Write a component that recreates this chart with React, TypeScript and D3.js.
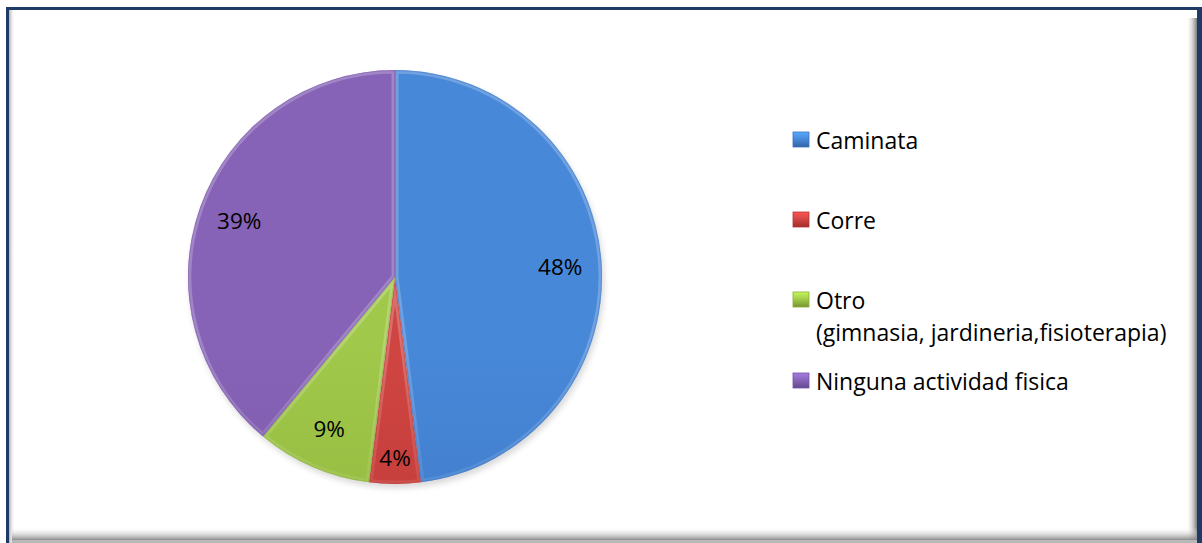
import React from "react";
import * as d3 from "d3";

const categories = ["Caminata", "Corre", "Otro", "Ninguna actividad fisica"];
const legendLabels = [
  ["Caminata"],
  ["Corre"],
  ["Otro", "(gimnasia, jardineria,fisioterapia)"],
  ["Ninguna actividad fisica"],
];
const values = [48, 4, 9, 39];
const colorsTop = ["#4888d8", "#cf4542", "#a0c84a", "#8663b6"];
const colorsBottom = ["#3a72c0", "#b73532", "#89ad35", "#7553a3"];

const W = 1202;
const H = 543;
const cx = 395;
const cy = 277;
const R = 207;
const legendX = 793;
const legendY = [140, 220, 300, 381];
const lineH = 32;
const font = "'Open Sans', Lato, sans-serif";

export default function App() {
  const pie = d3
    .pie<number>()
    .sort(null)
    .value((d) => d)
    .startAngle(0)
    .endAngle(2 * Math.PI);
  const arcs = pie(values);
  const arc = d3.arc<d3.PieArcDatum<number>>().innerRadius(0).outerRadius(R);
  const total = d3.sum(values);
  const fmt = (v: number) => `${Math.round((v / total) * 100)}%`;

  return (
    <svg
      width={W}
      height={H}
      style={{ position: "absolute", left: 0, top: 0 }}
      viewBox={`0 0 ${W} ${H}`}
    >
      <defs>
        <linearGradient id="shR" x1="0" x2="1" y1="0" y2="0">
          <stop offset="0" stopColor="#fff" stopOpacity="0" />
          <stop offset="1" stopColor="#7a7a7a" stopOpacity="1" />
        </linearGradient>
        <linearGradient id="shB" x1="0" x2="0" y1="0" y2="1">
          <stop offset="0" stopColor="#fff" stopOpacity="0" />
          <stop offset="1" stopColor="#7a7a7a" stopOpacity="1" />
        </linearGradient>
        <linearGradient id="shL" x1="0" x2="1" y1="0" y2="0">
          <stop offset="0" stopColor="#b0b0b0" stopOpacity="1" />
          <stop offset="1" stopColor="#fff" stopOpacity="0" />
        </linearGradient>
        <linearGradient id="rim" gradientUnits="userSpaceOnUse" x1="0" x2="0" y1={cy - R} y2={cy + R}>
          <stop offset="0" stopColor="#fff" stopOpacity="0.22" />
          <stop offset="0.4" stopColor="#fff" stopOpacity="0.05" />
          <stop offset="0.6" stopColor="#000" stopOpacity="0.04" />
          <stop offset="1" stopColor="#000" stopOpacity="0.22" />
        </linearGradient>
        {arcs.map((a, i) => (
          <linearGradient
            key={"g" + i}
            id={"sg" + i}
            gradientUnits="userSpaceOnUse"
            x1="0"
            x2="0"
            y1={cy - R}
            y2={cy + R}
          >
            <stop offset="0" stopColor={colorsTop[i]} />
            <stop offset="1" stopColor={colorsBottom[i]} />
          </linearGradient>
        ))}
        {arcs.map((a, i) => (
          <clipPath key={"c" + i} id={"cp" + i}>
            <path d={arc(a) || ""} transform={`translate(${cx},${cy})`} />
          </clipPath>
        ))}
        {categories.map((c, i) => (
          <linearGradient key={"lg" + i} id={"lg" + i} x1="0" x2="0" y1="0" y2="1">
            <stop offset="0" stopColor={d3.color(colorsTop[i])!.brighter(0.6).toString()} />
            <stop offset="0.5" stopColor={colorsTop[i]} />
            <stop offset="1" stopColor={d3.color(colorsBottom[i])!.darker(0.4).toString()} />
          </linearGradient>
        ))}
        <filter id="blur" x="-20%" y="-20%" width="140%" height="140%">
          <feGaussianBlur stdDeviation="3" />
        </filter>
      </defs>

      {/* frame */}
      <rect x={6} y={7} width={W - 6} height={H} fill="#1f3a64" />
      <rect x={9} y={10} width={1188} height={H} fill="#ffffff" />
      <rect x={9} y={10} width={6} height={H} fill="url(#shL)" />
      <rect x={1186} y={18} width={11} height={H} fill="url(#shR)" />
      <rect x={12} y={527} width={1185} height={14} fill="url(#shB)" />
      <rect x={12} y={540} width={1185} height={3} fill="#b8b8b8" />

      {/* pie shadow */}
      <circle cx={cx + 2} cy={cy + 4} r={R} fill="#000" opacity={0.15} filter="url(#blur)" />

      {/* slices */}
      <g transform={`translate(${cx},${cy})`}>
        {arcs.map((a, i) => (
          <path key={"s" + i} d={arc(a) || ""} fill={`url(#sg${i})`} />
        ))}
      </g>
      {arcs.map((a, i) => (
        <g key={"b" + i} clipPath={`url(#cp${i})`}>
          <path
            d={arc(a) || ""}
            transform={`translate(${cx},${cy})`}
            fill="none"
            stroke="url(#rim)"
            strokeWidth={7}
          />
          <path
            d={arc(a) || ""}
            transform={`translate(${cx},${cy})`}
            fill="none"
            stroke={colorsBottom[i]}
            strokeOpacity={0.45}
            strokeWidth={2}
          />
        </g>
      ))}

      {/* labels */}
      {arcs.map((a, i) => {
        const span = a.endAngle - a.startAngle;
        const lr = span < 0.3 ? R * 0.87 : R * 0.8;
        const [lx, ly] = d3
          .arc<d3.PieArcDatum<number>>()
          .innerRadius(lr)
          .outerRadius(lr)
          .centroid(a);
        return (
          <text
            key={"t" + i}
            x={cx + lx}
            y={cy + ly}
            textAnchor="middle"
            dominantBaseline="central"
            fontFamily={font}
            fontSize={22.5}
            fill="#000"
          >
            {fmt(a.data)}
          </text>
        );
      })}

      {/* legend */}
      {legendLabels.map((lines, i) => (
        <g key={"l" + i}>
          <rect
            x={legendX}
            y={legendY[i] - 8}
            width={16}
            height={15}
            fill={`url(#lg${i})`}
            stroke={colorsBottom[i]}
            strokeWidth={0.8}
          />
          {lines.map((ln, j) => (
            <text
              key={j}
              x={legendX + 23}
              y={legendY[i] + j * lineH}
              dominantBaseline="central"
              fontFamily={font}
              fontSize={23}
              style={{ fontVariantLigatures: "none" }}
              fill="#000"
            >
              {ln}
            </text>
          ))}
        </g>
      ))}
    </svg>
  );
}
